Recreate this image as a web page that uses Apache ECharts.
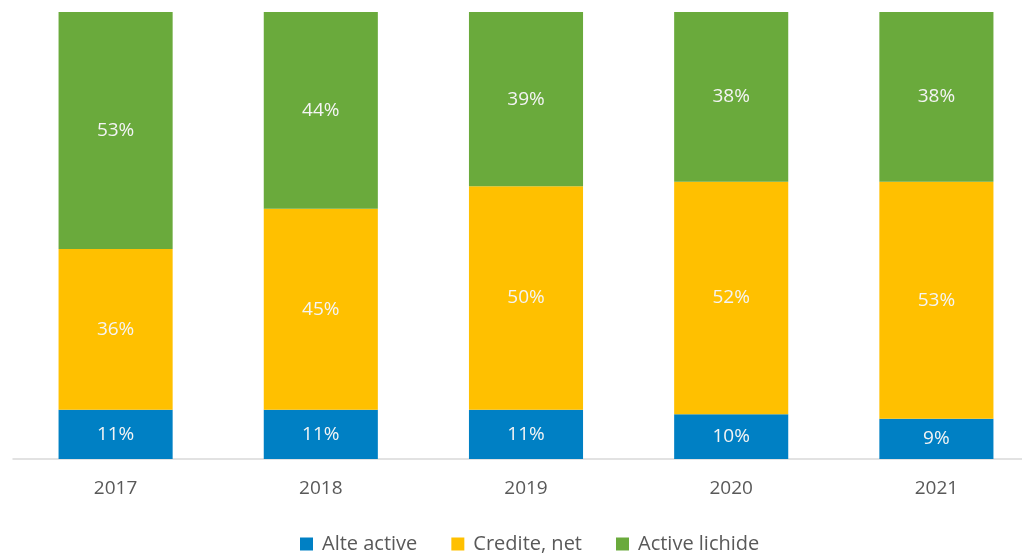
<!DOCTYPE html>
<html>
<head>
<meta charset="utf-8">
<script src="https://cdn.jsdelivr.net/npm/echarts@6/dist/echarts.min.js"></script>
<style>html,body{margin:0;padding:0;background:#fff;overflow:hidden}#c{width:1040px;height:553px}</style>
</head>
<body>
<div id="c"></div>
<script>
var years = ['2017', '2018', '2019', '2020', '2021'];
var alteActive = [11, 11, 11, 10, 9];
var crediteNet = [36, 45, 50, 52, 53];
var activeLichide = [53, 44, 39, 38, 38];

var chart = echarts.init(document.getElementById('c'));

function barSeries(name, data, color) {
    return {
        name: name,
        type: 'bar',
        stack: 'total',
        data: data,
        barWidth: '55.6%',
        itemStyle: { color: color },
        label: {
            show: true,
            position: 'inside',
            color: '#f4f4f4',
            fontSize: 19,
            fontFamily: 'Open Sans',
            formatter: '{c}%'
        }
    };
}

var option = {
    animation: false,
    textStyle: { fontFamily: 'Open Sans' },
    grid: { left: 13, top: 12, right: 1, height: 447, containLabel: false },
    legend: {
        top: 529,
        left: 295,
        itemWidth: 13,
        itemHeight: 13,
        itemGap: 34,
        icon: 'rect',
        textStyle: { color: '#595959', fontSize: 20, padding: [0, 0, 0, 4] }
    },
    xAxis: {
        type: 'category',
        data: years,
        axisLine: { lineStyle: { color: '#d9d9d9', width: 1.5 } },
        axisTick: { show: false },
        axisLabel: { color: '#595959', fontSize: 19, margin: 20 }
    },
    yAxis: {
        type: 'value',
        min: 0,
        max: 100,
        show: false
    },
    series: [
        barSeries('Alte active', alteActive, '#0080C4'),
        barSeries('Credite, net', crediteNet, '#FFC000'),
        barSeries('Active lichide', activeLichide, '#6AAA3C')
    ]
};
chart.setOption(option);
</script>
</body>
</html>
